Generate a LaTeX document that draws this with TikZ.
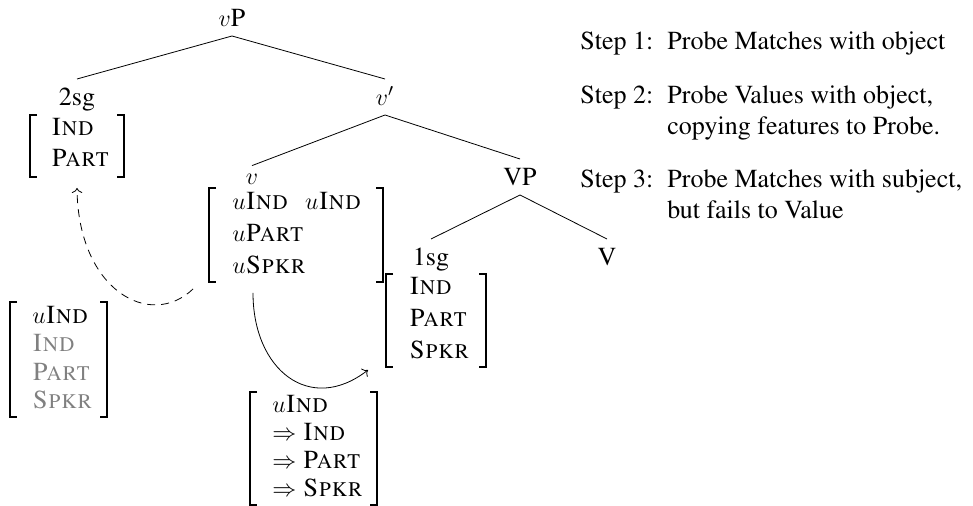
\documentclass[tikz,border=0pt]{standalone}
\usepackage[T1]{fontenc}
\usepackage{times}
\usetikzlibrary{arrows.meta}
\newcommand{\fsbr}[4]{% left x, right x, top y, bottom y
  \draw[brk] ({#1+7},#3) -- (#1,#3) -- (#1,#4) -- ({#1+7},#4);
  \draw[brk] ({#2-7},#3) -- (#2,#3) -- (#2,#4) -- ({#2-7},#4);}
\begin{document}
\begin{tikzpicture}[x=0.5pt,y=-0.5pt, font=\fontsize{13}{15.6}\selectfont,
  lab/.style={inner xsep=1pt, inner ysep=4.5pt, text height=8.6pt, text depth=0pt},
  row/.style={anchor=base west, inner sep=0pt},
  grayrow/.style={row, text=black!50},
  brk/.style={line width=0.8pt},
  stepl/.style={anchor=base west, inner sep=0pt},
  dashedarrow/.style={->, dash pattern=on 4pt off 3pt}]
\useasboundingbox (0,0) rectangle (973,506);

% tree labels
\node[lab] (vP) at (232,18) {$v$P};
\node[lab] (sg2) at (77,97) {2sg};
\node[lab] (vbar) at (385,97) {$v'$};
\node[lab, text height=6pt, inner ysep=3.5pt] (v) at (252,179) {$v$};
\node[lab] (VP) at (520,177) {VP};
\node[lab] (sg1) at (431,257) {1sg};
\node[lab] (V) at (607,257) {V};

% tree branches
\draw (vP.south) -- (sg2.north);
\draw (vP.south) -- (vbar.north);
\draw (vbar.south) -- (v.north);
\draw (vbar.south) -- (VP.north);
\draw (VP.south) -- (sg1.north);
\draw (VP.south) -- (V.north);

% 2sg features
\node[row] (a1) at (51,136) {\textsc{Ind}};
\node[row] (a2) at (51,167) {\textsc{Part}};
\fsbr{30}{124}{115}{177}

% v features
\node[row] (b1) at (232,210) {$u$\textsc{Ind}\hspace{0.65em}$u$\textsc{Ind}};
\node[row] (b2) at (232,242) {$u$\textsc{Part}};
\node[row] (b3) at (232,274) {$u$\textsc{Spkr}};
\fsbr{209}{383}{188}{282}

% 1sg features
\node[row] (c1) at (409,295) {\textsc{Ind}};
\node[row] (c2) at (409,327) {\textsc{Part}};
\node[row] (c3) at (409,359) {\textsc{Spkr}};
\fsbr{386}{486}{274}{367}

% left (gray) features
\node[row] (d1) at (32,324) {$u$\textsc{Ind}};
\node[grayrow] (d2) at (32,352) {\textsc{Ind}};
\node[grayrow] (d3) at (32,381) {\textsc{Part}};
\node[grayrow] (d4) at (32,409) {\textsc{Spkr}};
\fsbr{10}{107}{302}{417}

% bottom features
\node[row] (e1) at (272,413) {$u$\textsc{Ind}};
\node[row] (e2) at (272,441) {$\Rightarrow$ \textsc{Ind}};
\node[row] (e3) at (272,469) {$\Rightarrow$ \textsc{Part}};
\node[row] (e4) at (272,497) {$\Rightarrow$ \textsc{Spkr}};
\fsbr{250}{377}{392}{505}

% arrows
\coordinate (dashstart) at (193,289);
\coordinate (dashend) at (77,188);
\draw[dashedarrow] (dashstart) .. controls (150,330) and (78,290) .. (dashend);
\coordinate (solstart) at (253,293);
\coordinate (solend) at (368,370);
\draw[->] (solstart) .. controls (253,370) and (310,415) .. (solend);

% steps
\node[stepl] (st1) at (580,50) {Step 1:};
\node[stepl] (tx1) at (667,50) {Probe Matches with object};
\node[stepl] (st2) at (580,104) {Step 2:};
\node[stepl] (tx2) at (667,104) {Probe Values with object,};
\node[stepl] (tx2b) at (667,135) {copying features to Probe.};
\node[stepl] (st3) at (580,188) {Step 3:};
\node[stepl] (tx3) at (667,188) {Probe Matches with subject,};
\node[stepl] (tx3b) at (667,219) {but fails to Value};
\end{tikzpicture}
\end{document}
